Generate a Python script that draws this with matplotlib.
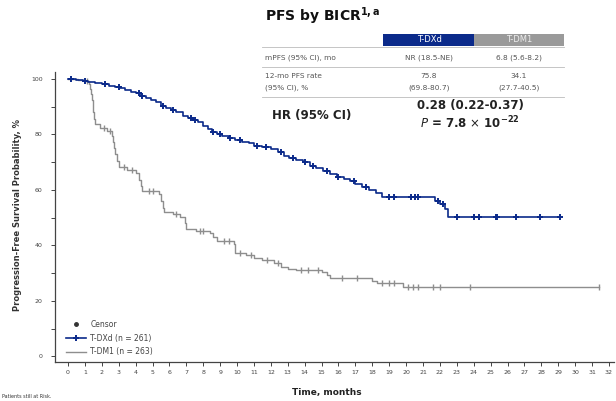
import numpy as np
import matplotlib.pyplot as plt
from matplotlib.lines import Line2D
from matplotlib.patches import Rectangle

# Kaplan-Meier steps (months, PFS %)
tdxd_time = [0.0, 0.5, 0.9, 1.2, 1.6, 2.0, 2.4, 2.8, 3.1, 3.4, 3.7, 4.0, 4.3, 4.6,
             4.9, 5.2, 5.5, 5.8, 6.1, 6.4, 6.8, 7.1, 7.4, 7.7, 8.0, 8.3, 8.5, 8.8,
             9.1, 9.5, 9.9, 10.3, 10.7, 11.0, 11.5, 12.0, 12.4, 12.8, 13.1, 13.5,
             13.9, 14.3, 14.7, 15.1, 15.5, 15.9, 16.3, 16.7, 17.0, 17.4, 17.8,
             18.2, 18.6, 21.7, 22.0, 22.3, 22.45, 29.1]
tdxd_surv = [100, 99.6, 99.2, 98.8, 98.4, 98.0, 97.6, 97.2, 96.8, 96.0, 95.2, 94.8,
             94.0, 93.2, 92.4, 91.6, 90.4, 89.6, 88.8, 88.0, 86.8, 86.0, 85.2, 84.4,
             83.2, 82.0, 80.8, 80.0, 79.6, 78.8, 78.0, 77.2, 76.8, 76.0, 75.6, 74.8,
             73.6, 72.4, 71.6, 70.8, 70.0, 68.8, 68.0, 66.8, 65.6, 64.8, 64.0, 63.2,
             62.0, 61.2, 60.0, 58.8, 57.6, 56.0, 54.8, 53.2, 50.4, 50.4]
tdxd_censor = [0.2, 1.0, 2.2, 3.0, 4.2, 4.4, 5.6, 6.2, 7.3, 7.5, 8.6, 9.0, 9.6, 10.2,
               11.2, 11.7, 12.6, 13.3, 14.0, 14.5, 15.3, 16.0, 16.9, 17.6, 19.0,
               19.3, 20.3, 20.5, 20.7, 21.9, 22.2, 23.0, 24.0, 24.3, 25.3, 25.4,
               26.5, 27.9, 29.1]

tdm1_time = [0.0, 0.6, 1.0, 1.25, 1.3, 1.35, 1.4, 1.45, 1.5, 1.55, 1.6, 1.9, 2.3,
             2.6, 2.65, 2.7, 2.8, 2.9, 3.0, 3.5, 4.0, 4.2, 4.3, 4.4, 5.4, 5.5, 5.6,
             5.7, 6.2, 6.6, 6.9, 7.0, 7.6, 8.4, 8.6, 8.8, 9.8, 9.85, 9.9, 10.5,
             11.0, 11.5, 12.2, 12.6, 13.0, 13.5, 15.0, 15.3, 15.5, 18.0, 18.3,
             19.8, 31.4]
tdm1_surv = [100, 99.6, 99.2, 98.0, 96.4, 94.4, 92.4, 90.0, 88.0, 85.6, 83.6, 82.4,
             81.2, 79.6, 77.2, 75.2, 72.8, 70.4, 68.4, 67.2, 66.0, 63.6, 61.6, 59.6,
             58.4, 56.0, 53.6, 52.0, 51.2, 50.4, 48.0, 46.0, 45.2, 44.4, 43.2, 41.6,
             40.4, 38.8, 37.2, 36.4, 35.6, 34.8, 33.6, 32.4, 31.6, 31.2, 30.4, 29.2,
             28.4, 27.2, 26.4, 25.0, 25.0]
tdm1_censor = [1.1, 2.1, 2.5, 3.3, 3.8, 4.8, 5.0, 6.4, 7.8, 8.0, 9.2, 9.5, 10.2,
               10.8, 11.8, 12.4, 13.8, 14.2, 14.8, 16.2, 17.1, 18.6, 19.0, 19.3,
               20.1, 20.4, 20.7, 21.6, 22.0, 23.8, 31.4]

x_ticks = list(range(0, 33))
y_ticks = [0, 20, 40, 60, 80, 100]

BLUE = '#0b2a8a'
GREY = '#8e8e8e'
W, H = 616, 401


def px(x, y):
    return x / W, 1 - y / H


def surv_at(times, surv, t):
    i = np.searchsorted(times, t, side='right') - 1
    return np.asarray(surv)[i]


fig = plt.figure(figsize=(W / 100, H / 100), dpi=100)
ax = fig.add_axes([55 / W, 39 / H, 559 / W, 290 / H])

ax.step(tdm1_time, tdm1_surv, where='post', color=GREY, lw=1.0)
ax.plot(tdm1_censor, surv_at(tdm1_time, tdm1_surv, tdm1_censor), ls='none',
        marker='|', ms=4, mew=1.0, color=GREY)
ax.step(tdxd_time, tdxd_surv, where='post', color=BLUE, lw=1.2)
ax.plot(tdxd_censor, surv_at(tdxd_time, tdxd_surv, tdxd_censor), ls='none',
        marker='+', ms=4.5, mew=1.4, color=BLUE)

ax.set_xlim(-0.77, 32.3)
ax.set_ylim(-2, 102.5)
ax.set_xticks(x_ticks)
ax.set_xticklabels([str(t) for t in x_ticks], fontsize=4.5, color='#444444')
ax.set_yticks(y_ticks)
ax.set_yticklabels([str(t) for t in y_ticks], fontsize=4.5, color='#444444')
ax.set_yticks(range(10, 100, 20), minor=True)
ax.tick_params(axis='both', which='both', length=3, width=0.7, color='#444444', pad=3)
ax.tick_params(axis='y', pad=6)
for s in ['top', 'right']:
    ax.spines[s].set_visible(False)
for s in ['left', 'bottom']:
    ax.spines[s].set_color('#444444')
    ax.spines[s].set_linewidth(0.9)

fig.text(*px(18, 215), 'Progression-Free Survival Probability, %', rotation=90,
         ha='center', va='center', fontsize=6, fontweight='bold', color='#333333')
fig.text(*px(327, 393), 'Time, months', ha='center', va='center',
         fontsize=6.5, fontweight='bold', color='#222222')
fig.text(*px(2, 396), 'Patients still at Risk.', ha='left', va='center',
         fontsize=3.5, color='#333333')

handles = [
    Line2D([], [], ls='none', marker='o', ms=2.5, color='#333333'),
    Line2D([], [], color=BLUE, lw=1.2, marker='+', ms=4.5, mew=1.4),
    Line2D([], [], color=GREY, lw=1.0),
]
ax.legend(handles, ['Censor', 'T-DXd (n = 261)', 'T-DM1 (n = 263)'],
          loc='lower left', bbox_to_anchor=px(62, 360), bbox_transform=fig.transFigure,
          frameon=False, fontsize=5.5, handlelength=2.6, labelspacing=0.6,
          handletextpad=0.6, borderpad=0, labelcolor='#444444')

# summary table
fig.text(*px(265, 16), r'PFS by BICR$^{\mathregular{1,a}}$', ha='left', va='center',
         fontsize=10, fontweight='bold', color='#111111')
fig.add_artist(Rectangle(px(383, 46), 91 / W, 12 / H, transform=fig.transFigure,
                         facecolor=BLUE, edgecolor='none'))
fig.add_artist(Rectangle(px(474, 46), 90 / W, 12 / H, transform=fig.transFigure,
                         facecolor='#9a9a9a', edgecolor='none'))
fig.text(*px(429, 40), 'T-DXd', ha='center', va='center', fontsize=6, color='white')
fig.text(*px(519, 40), 'T-DM1', ha='center', va='center', fontsize=6, color='#eeeeee')
for y in (47, 67, 97):
    fig.add_artist(Line2D([262 / W, 564 / W], [1 - y / H] * 2, transform=fig.transFigure,
                          color='#bbbbbb', lw=0.6))

cell = dict(va='center', fontsize=5.3, color='#555555')
fig.text(*px(265, 58), 'mPFS (95% CI), mo', ha='left', **cell)
fig.text(*px(429, 58), 'NR (18.5-NE)', ha='center', **cell)
fig.text(*px(519, 58), '6.8 (5.6-8.2)', ha='center', **cell)
fig.text(*px(265, 76), '12-mo PFS rate', ha='left', **cell)
fig.text(*px(265, 88), '(95% CI), %', ha='left', **cell)
fig.text(*px(429, 76), '75.8', ha='center', **cell)
fig.text(*px(429, 88), '(69.8-80.7)', ha='center', **cell)
fig.text(*px(519, 76), '34.1', ha='center', **cell)
fig.text(*px(519, 88), '(27.7-40.5)', ha='center', **cell)

fig.text(*px(272, 116), 'HR (95% CI)', ha='left', va='center', fontsize=8.5,
         fontweight='bold', color='#222222')
fig.text(*px(470, 106), '0.28 (0.22-0.37)', ha='center', va='center', fontsize=8.5,
         fontweight='bold', color='#222222')
fig.text(*px(470, 123), r'$\mathit{P}$ = 7.8 $\times$ 10$^{\mathregular{-22}}$',
         ha='center', va='center', fontsize=8.5, fontweight='bold', color='#222222')

fig.savefig('out.png', dpi=100)
